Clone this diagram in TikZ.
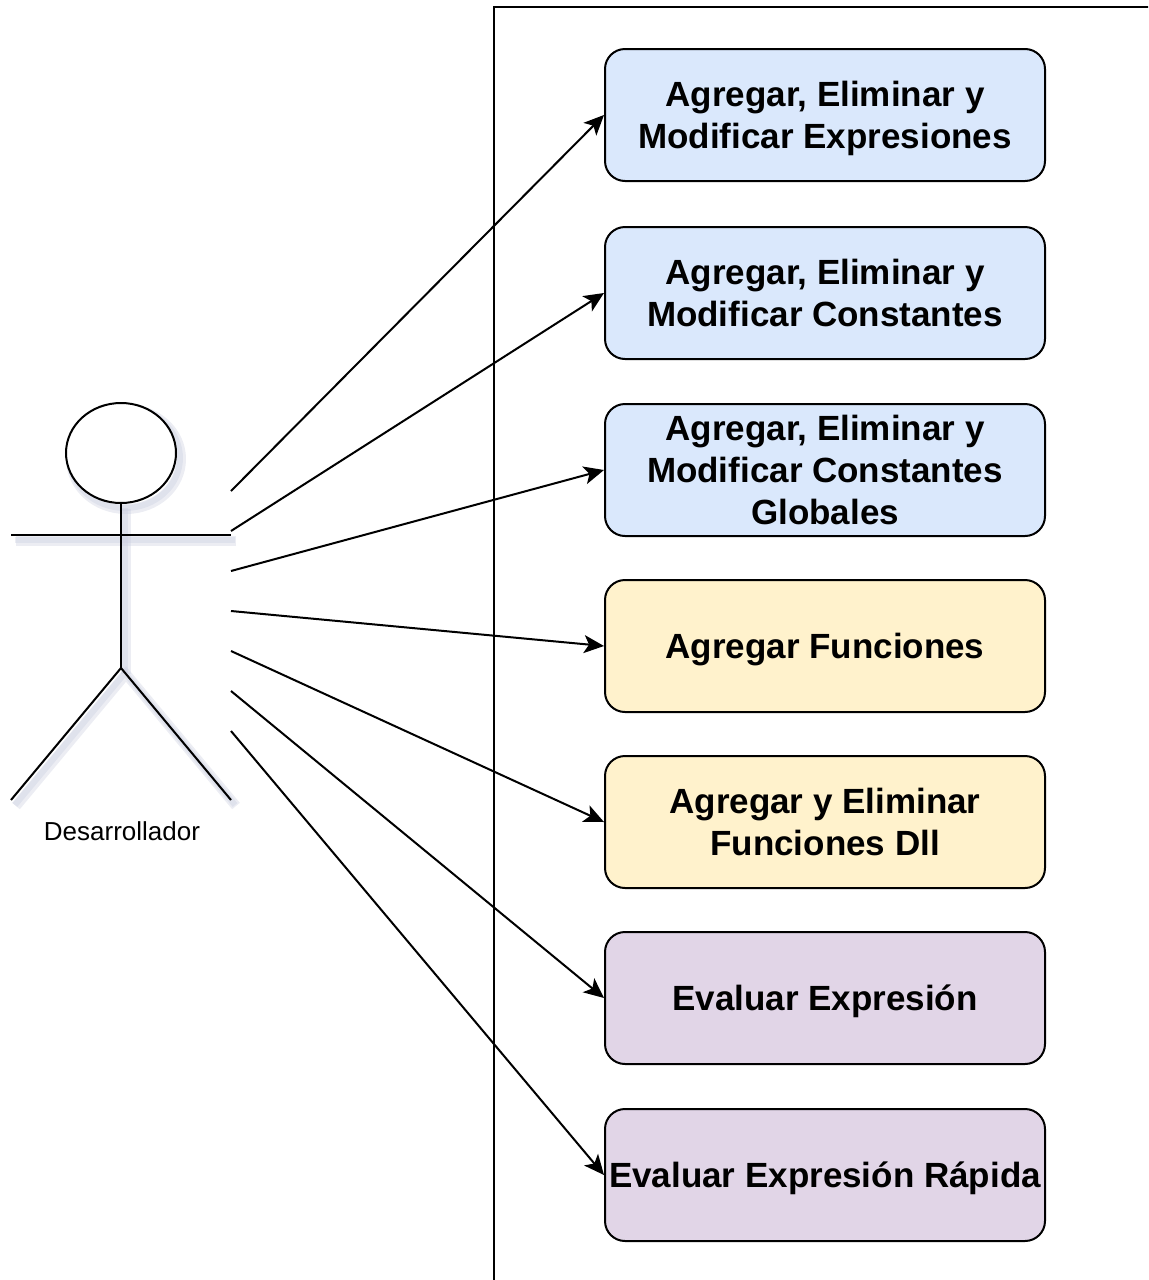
\documentclass[tikz,border=0pt]{standalone}
\usepackage{fontspec}
\setmainfont{Liberation Sans}
\usetikzlibrary{arrows.meta,shapes.geometric}
\definecolor{ucblue}{HTML}{DAE8FC}
\definecolor{ucyellow}{HTML}{FFF2CC}
\definecolor{ucpurple}{HTML}{E1D5E7}
\definecolor{actorshadow}{RGB}{200,204,222}
\begin{document}
\begin{tikzpicture}[x=0.5pt,y=-0.5pt,
  usecase/.style={draw=black, line width=1pt, rounded corners=10pt,
    minimum width=220pt, minimum height=66pt, inner sep=0pt, align=center,
    text depth=0pt, font=\fontsize{17.5}{21}\selectfont\bfseries},
  stroke/.style={line width=1pt, black},
  assoc/.style={line width=1pt, black, -{Stealth[length=10pt,width=9pt,inset=2.5pt]}},
  shadowline/.style={line width=3pt, actorshadow, opacity=0.35}]
\useasboundingbox (0,0) rectangle (1148,1280);
\clip (0,0) rectangle (1148,1280);

% system boundary (continues past the page edge)
\draw[stroke] (494,1300) -- (494,7) -- (1160,7);

% use cases
\node[usecase, fill=ucblue]   (u1) at (825,115)  {Agregar, Eliminar y\\Modificar Expresiones};
\node[usecase, fill=ucblue]   (u2) at (825,293)  {Agregar, Eliminar y\\Modificar Constantes};
\node[usecase, fill=ucblue]   (u3) at (825,470)  {Agregar, Eliminar y\\Modificar Constantes\\Globales};
\node[usecase, fill=ucyellow] (u4) at (825,646)  {Agregar Funciones};
\node[usecase, fill=ucyellow] (u5) at (825,822)  {Agregar y Eliminar\\Funciones Dll};
\node[usecase, fill=ucpurple] (u6) at (825,998)  {Evaluar Expresión};
\node[usecase, fill=ucpurple] (u7) at (825,1175) {Evaluar Expresión Rápida};

% soft actor shadow
\foreach \dx/\dy/\w in {5/6/5pt, 4/5/3pt}{
  \begin{scope}[shift={(\dx,\dy)}, shadowline, line width=\w]
    \draw (121,453) ellipse [x radius=55, y radius=50];
    \draw (121,503) -- (121,668);
    \draw (11,535) -- (231,535);
    \draw (11,800) -- (121,668) -- (231,800);
  \end{scope}
}

% actor
\node[draw=black, fill=white, line width=1pt, ellipse, minimum width=55pt,
  minimum height=50pt, inner sep=0pt] (head) at (121,453) {};
\coordinate (hip) at (121,668);
\coordinate (handL) at (11,535);
\coordinate (handR) at (231,535);
\coordinate (footL) at (11,800);
\coordinate (footR) at (231,800);
\draw[stroke] (head.south) -- (hip);
\draw[stroke] (handL) -- (handR);
\draw[stroke] (footL) -- (hip) -- (footR);
\node[font=\fontsize{13}{15}\selectfont] (actor) at (122,831) {Desarrollador};

% associations
\foreach \i/\y in {1/491,2/531,3/571,4/611,5/651,6/691,7/731}
  \coordinate (s\i) at (231,\y);
\foreach \i in {1,...,7}
  \draw[assoc] (s\i) -- (u\i.west);
\end{tikzpicture}
\end{document}
